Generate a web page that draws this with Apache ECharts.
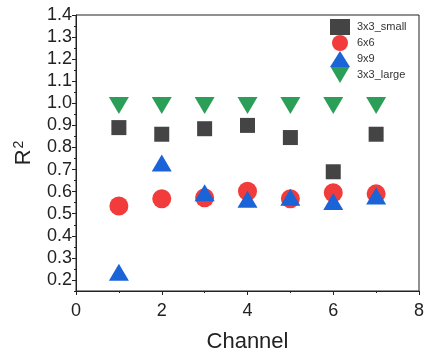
<!DOCTYPE html>
<html lang="en">
<head>
    <meta charset="UTF-8">
    <title>R2 vs Channel</title>
    <script src="https://cdn.jsdelivr.net/npm/echarts@6.0.0/dist/echarts.min.js"></script>
    <style>
        html, body { margin: 0; padding: 0; background: #fff; }
        #chart { width: 424px; height: 353px; }
    </style>
</head>
<body>
    <div id="chart"></div>
    <script>
        // data
        const channels = [1, 2, 3, 4, 5, 6, 7];
        const small3x3 = [0.89, 0.86, 0.885, 0.90, 0.845, 0.69, 0.86];
        const grid6x6 = [0.535, 0.568, 0.572, 0.602, 0.568, 0.595, 0.59];
        const grid9x9 = [0.235, 0.73, 0.595, 0.565, 0.575, 0.555, 0.58];
        const large3x3 = [0.99, 0.99, 0.99, 0.99, 0.99, 0.99, 0.99];
        const yLabels = [0.2, 0.3, 0.4, 0.5, 0.6, 0.7, 0.8, 0.9, 1.0, 1.1, 1.2, 1.3, 1.4];
        const xLabels = [0, 2, 4, 6, 8];

        const font = 'Liberation Sans, Arial, sans-serif';
        const downTriangle = 'path://M0,0 L20,0 L10,17 Z';
        const pair = vals => channels.map((c, i) => [c, vals[i]]);

        const chart = echarts.init(document.getElementById('chart'));
        chart.setOption({
            animation: false,
            textStyle: { fontFamily: font },
            grid: {
                left: 76, right: 5, top: 15, bottom: 62,
                outerBoundsMode: 'none',
                show: true, borderColor: '#222', borderWidth: 1
            },
            legend: {
                orient: 'vertical',
                left: 330, top: 19,
                padding: 0,
                itemGap: 0,
                itemWidth: 20, itemHeight: 16,
                textStyle: { fontSize: 11, color: '#333', fontFamily: font, padding: [0, 0, 0, 2] },
                data: ['3x3_small', '6x6', '9x9', '3x3_large']
            },
            xAxis: [{
                type: 'value', min: 0, max: 8, interval: 1,
                name: 'Channel', nameLocation: 'middle', nameGap: 40,
                nameTextStyle: { fontSize: 22, color: '#222' },
                axisLine: { lineStyle: { color: '#222', width: 1 } },
                axisTick: { show: true, length: 4, customValues: xLabels, lineStyle: { color: '#222' } },
                axisLabel: { customValues: xLabels, fontSize: 18, color: '#222', margin: 11 },
                splitLine: { show: false }
            }, {
                type: 'value', min: 0, max: 8, interval: 1, position: 'bottom',
                axisLine: { show: false },
                axisTick: { show: true, length: 2, lineStyle: { color: '#222' } },
                axisLabel: { show: false },
                splitLine: { show: false }
            }],
            yAxis: [{
                type: 'value', min: 0.15, max: 1.4, interval: 0.05,
                name: 'R{s|2}', nameLocation: 'middle', nameGap: 40, nameRotate: 90,
                nameTextStyle: {
                    fontSize: 22, color: '#222',
                    rich: { s: { fontSize: 14, color: '#222', verticalAlign: 'top', padding: [0, 0, 10, 1] } }
                },
                axisLine: { show: true, lineStyle: { color: '#222', width: 1 } },
                axisTick: { show: true, length: 4, customValues: yLabels, lineStyle: { color: '#222' } },
                axisLabel: {
                    customValues: yLabels, fontSize: 18, color: '#222', margin: 4,
                    formatter: v => v.toFixed(1)
                },
                splitLine: { show: false }
            }, {
                type: 'value', min: 0.15, max: 1.4, interval: 0.05, position: 'left',
                axisLine: { show: false },
                axisTick: { show: true, length: 2, lineStyle: { color: '#222' } },
                axisLabel: { show: false },
                splitLine: { show: false }
            }],
            series: [{
                name: '3x3_small', type: 'scatter', symbol: 'rect', symbolSize: 15,
                itemStyle: { color: '#444444', opacity: 1 },
                data: pair(small3x3)
            }, {
                name: '6x6', type: 'scatter', symbol: 'circle', symbolSize: 19,
                itemStyle: { color: '#f23b3b', opacity: 1 },
                data: pair(grid6x6)
            }, {
                name: '9x9', type: 'scatter', symbol: 'triangle', symbolSize: [20, 17],
                itemStyle: { color: '#1a64d8', opacity: 1 },
                data: pair(grid9x9)
            }, {
                name: '3x3_large', type: 'scatter', symbol: downTriangle,
                symbolSize: [20, 17],
                itemStyle: { color: '#2b9e58', opacity: 1 },
                data: pair(large3x3)
            }]
        });
    </script>
</body>
</html>
